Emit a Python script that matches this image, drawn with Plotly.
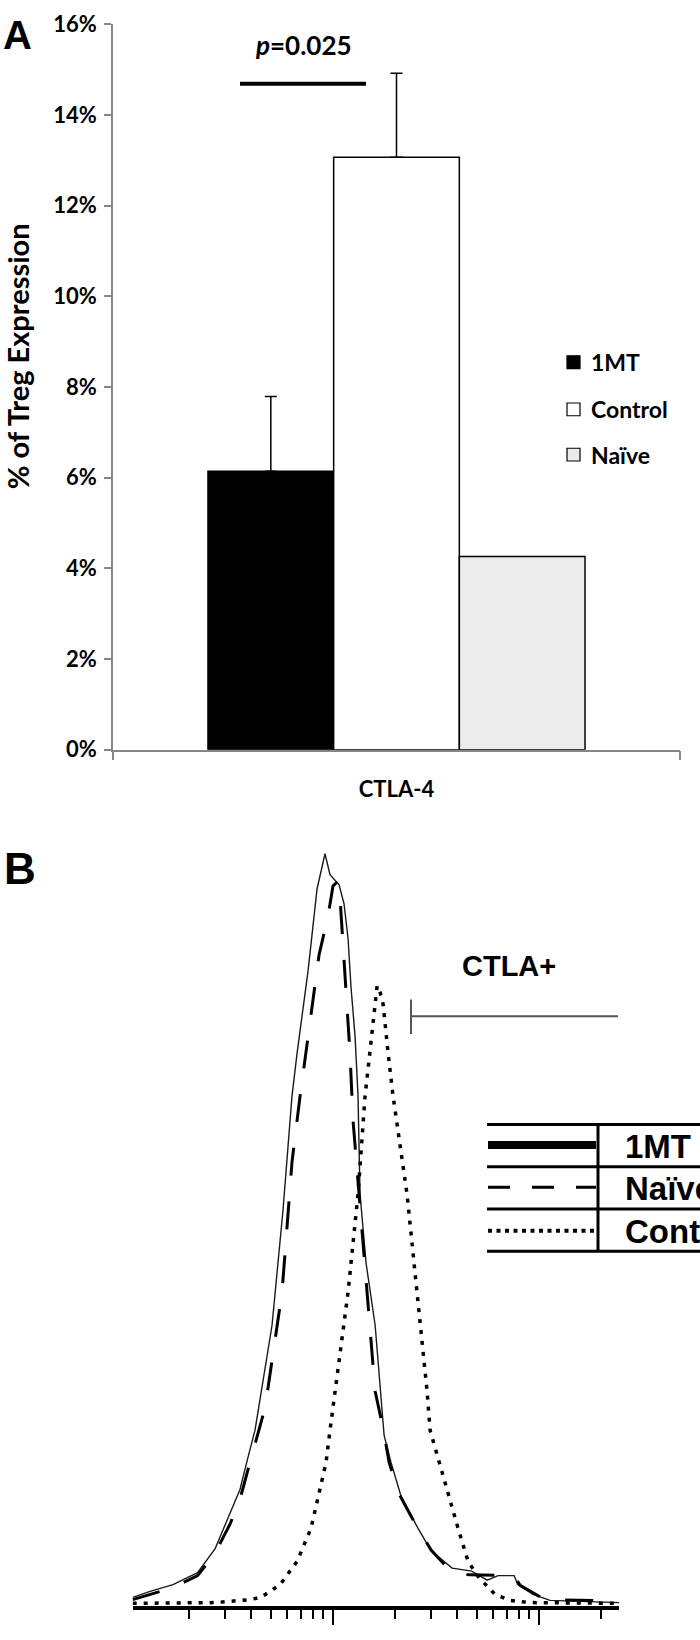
import plotly.graph_objects as go

# ---------------- Panel A data ----------------
category = ["CTLA-4"]
groups = ["1MT", "Control", "Naïve"]
means = [0.0614, 0.1307, 0.0426]
err_plus = [0.0165, 0.0185, None]
fills = ["#000000", "#ffffff", "#ebebeb"]
y_ticks = [0, 0.02, 0.04, 0.06, 0.08, 0.10, 0.12, 0.14, 0.16]
p_text = "<i>p</i>=0.025"
p_bar_level = 0.1469

# ---------------- Panel B data (fluorescence intensity, counts) ----------------
mt_x = [10.7, 13.0, 16.8, 22.1, 26.9, 31.8, 35.5, 38.6, 42.0, 50.8, 57.4, 63.5, 67.2, 76.0,
        84.0, 91.8, 97.1, 101.6, 107.4, 113.6, 118.8, 122.8, 128.5, 132.8, 135.8, 145.3,
        160.8, 177.8, 192.0, 214.8, 259.8, 300.6, 380.1, 473.2, 562.3, 635.3, 760.3, 791.3,
        939.2, 1136, 1588, 2455]
mt_y = [0.8, 1.6, 2.5, 4.1, 7.3, 12.2, 15.2, 19.2, 23.1, 37.1, 52.4, 67.7, 73.4, 84.4,
        95.3, 100.0, 97.2, 96.6, 95.9, 93.3, 88.7, 82.2, 75.6, 67.7, 54.6, 45.4,
        37.1, 22.4, 18.8, 14.3, 10.0, 7.0, 4.7, 4.3, 3.1, 3.7, 3.7, 2.5,
        1.2, 0.4, 0.3, 0.1]

naive_x = [10.7, 16.8, 22.1, 26.9, 31.8, 35.5, 38.8, 42.5, 47.0, 56.8, 63.5, 69.5, 76.0,
           85.9, 95.0, 100.4, 103.9, 107.4, 110.5, 116.1, 121.4, 125.6, 140.6, 160.8,
           176.6, 188.0, 210.0, 248.3, 300.6, 380.1, 465.3, 635.3, 760.3, 812.8, 1074, 2455]
naive_y = [0.5, 2.1, 3.7, 6.7, 10.6, 13.9, 17.8, 21.8, 26.1, 41.5, 58.9, 67.7, 75.6,
           86.5, 91.7, 95.7, 96.1, 96.2, 90.9, 82.2, 73.4, 64.4, 48.0, 28.3,
           23.1, 18.8, 14.6, 10.9, 7.1, 4.1, 3.8, 3.7, 3.7, 2.4, 0.5, 0.3]

ctrl_x = [10.7, 26.9, 39.7, 44.9, 55.6, 67.2, 78.5, 84.9, 92.9, 97.1, 118.8, 132.8, 143.7,
          148.6, 157.1, 164.4, 170.0, 175.8, 185.9, 196.4, 229.6, 256.8, 287.4, 297.2,
          328.7, 367.6, 406.4, 454.3, 514.0, 614.4, 726.1, 907.8, 2455]
ctrl_y = [0.0, 0.1, 0.5, 0.8, 2.5, 5.6, 10.0, 14.3, 18.8, 23.1, 41.5, 54.6, 67.7,
          71.3, 77.8, 82.4, 81.5, 79.9, 73.4, 67.7, 54.6, 41.5, 28.3, 23.1,
          18.8, 14.3, 10.0, 5.6, 3.4, 1.2, 0.4, 0.1, 0.0]

hist_names = ["1MT", "Naïve", "Control"]
gate_label = "CTLA+"

W, H = 700, 1640


def px(x):
    return x / W


def py(y):
    return 1 - y / H


fig = go.Figure()

# ---- Panel A bars ----
for name, m, e, c in zip(groups, means, err_plus, fills):
    fig.add_trace(go.Bar(
        x=category, y=[m], name=name, xaxis="x", yaxis="y",
        marker=dict(color=c, line=dict(color="#000000", width=1.5)),
        error_y=dict(type="data", symmetric=False, array=[e if e else 0], arrayminus=[0],
                     visible=e is not None, color="#000000", thickness=1.5, width=6),
        showlegend=False,
    ))

# ---- Panel B histograms ----
fig.add_trace(go.Scatter(x=mt_x, y=mt_y, name=hist_names[0], mode="lines", xaxis="x2", yaxis="y2",
                         line=dict(color="#1a1a1a", width=1.4), showlegend=False))
fig.add_trace(go.Scatter(x=naive_x, y=naive_y, name=hist_names[1], mode="lines", xaxis="x2", yaxis="y2",
                         line=dict(color="#000000", width=3, dash="28px,26px"), showlegend=False))
fig.add_trace(go.Scatter(x=ctrl_x, y=ctrl_y, name=hist_names[2], mode="lines", xaxis="x2", yaxis="y2",
                         line=dict(color="#000000", width=3.5, dash="4px,7px"), showlegend=False))

lato = "Lato"
arial = "Liberation Sans, Arial"

annotations = [
    dict(text="<b>A</b>", x=px(17), y=py(21), xref="paper", yref="paper", showarrow=False,
         xanchor="center", yanchor="middle", font=dict(family=arial, size=40, color="#000")),
    dict(text="<b>B</b>", x=px(20), y=py(869), xref="paper", yref="paper", showarrow=False,
         xanchor="center", yanchor="middle", font=dict(family=arial, size=44, color="#000")),
    dict(text="<b>% of Treg Expression</b>", x=px(17), y=py(348), xref="paper", yref="paper",
         showarrow=False, textangle=-90, xanchor="center", yanchor="middle",
         font=dict(family=lato, size=29, color="#000")),
    dict(text="<b>" + p_text + "</b>", x=px(303), y=py(32), xref="paper", yref="paper",
         showarrow=False, xanchor="center", yanchor="middle",
         font=dict(family=lato, size=26, color="#000")),
    dict(text="<b>" + gate_label + "</b>", x=px(509), y=py(968), xref="paper", yref="paper",
         showarrow=False, xanchor="center", yanchor="middle",
         font=dict(family=arial, size=29, color="#000")),
]

shapes = [
    # significance bar
    dict(type="line", xref="paper", yref="y", x0=px(240), x1=px(366), y0=p_bar_level, y1=p_bar_level,
         line=dict(color="#000", width=4)),
    # CTLA+ gate
    dict(type="line", xref="paper", yref="paper", x0=px(411), x1=px(618), y0=py(1019), y1=py(1019),
         line=dict(color="#555", width=2)),
    dict(type="line", xref="paper", yref="paper", x0=px(411), x1=px(411), y0=py(1002), y1=py(1037),
         line=dict(color="#555", width=2)),
]

# Panel A legend
leg_y = [354, 402, 448]
for name, c, yy in zip(groups, fills, leg_y):
    shapes.append(dict(type="rect", xref="paper", yref="paper", x0=px(567), x1=px(580),
                       y0=py(yy - 6.5), y1=py(yy + 6.5), fillcolor=c, line=dict(color="#000", width=1.2)))
    annotations.append(dict(text="<b>" + name + "</b>", x=px(589), y=py(yy), xref="paper", yref="paper",
                            showarrow=False, xanchor="left", yanchor="middle",
                            font=dict(family=lato, size=23, color="#000")))

# Panel B legend table
for yy in [1129, 1172, 1215, 1258]:
    shapes.append(dict(type="line", xref="paper", yref="paper", x0=px(487), x1=1.0, y0=py(yy), y1=py(yy),
                       line=dict(color="#000", width=3)))
shapes.append(dict(type="line", xref="paper", yref="paper", x0=px(598), x1=px(598), y0=py(1129), y1=py(1258),
                   line=dict(color="#000", width=3)))
row_y = [1150, 1193, 1237]
row_styles = [dict(width=8, dash="solid"), dict(width=3, dash="22px,22px"), dict(width=4, dash="4px,4.5px")]
for name, yy, st in zip(hist_names, row_y, row_styles):
    shapes.append(dict(type="line", xref="paper", yref="paper", x0=px(488), x1=px(596), y0=py(yy), y1=py(yy),
                       line=dict(color="#000", width=st["width"], dash=st["dash"])))
    annotations.append(dict(text="<b>" + name + "</b>", x=px(623), y=py(yy + 1), xref="paper", yref="paper",
                            showarrow=False, xanchor="left", yanchor="middle",
                            font=dict(family=arial, size=33, color="#000")))

fig.update_layout(
    width=W, height=H,
    margin=dict(l=0, r=0, t=0, b=0),
    paper_bgcolor="white", plot_bgcolor="white",
    barmode="group", bargap=0.335, bargroupgap=0,
    showlegend=False,
    xaxis=dict(domain=[px(113), px(680)], anchor="y", type="category", range=[-0.5, 0.5],
               showline=True, linecolor="#868686", linewidth=1.5,
               ticks="outside", tickson="boundaries", ticklen=9, tickcolor="#868686", tickwidth=1.5,
               ticklabelstandoff=19,
               tickfont=dict(family=lato, size=22, color="#000", weight="bold"),
               showgrid=False, zeroline=False, fixedrange=True),
    yaxis=dict(domain=[py(748), py(10.45)], anchor="x", range=[0, 0.16001], tickvals=y_ticks,
               tickformat=".0%", showline=True, linecolor="#868686", linewidth=1.5,
               ticks="outside", ticklen=7, tickcolor="#868686", tickwidth=1.5,
               ticklabelstandoff=3, ticklabeloverflow="allow",
               tickfont=dict(family=lato, size=22, color="#000", weight="bold"),
               showgrid=False, zeroline=False, fixedrange=True),
    xaxis2=dict(domain=[px(132.6), px(619)], anchor="y2", type="log",
                range=[1.029, 3.390], showline=True, linecolor="#000", linewidth=4,
                ticks="outside", dtick=1, ticklen=15, tickwidth=2, tickcolor="#000",
                minor=dict(ticks="outside", ticklen=9, tickwidth=1.5, tickcolor="#000", dtick="D1"),
                showticklabels=False, showgrid=False, zeroline=False),
    yaxis2=dict(domain=[py(1619), py(850)], anchor="x2", range=[-0.4, 100.5], visible=False,
                showgrid=False, zeroline=False),
    annotations=annotations,
    shapes=shapes,
)

fig.write_html("out.html", config={"displayModeBar": False},
               post_script="document.body.style.margin='0px';document.body.style.overflow='hidden';")
